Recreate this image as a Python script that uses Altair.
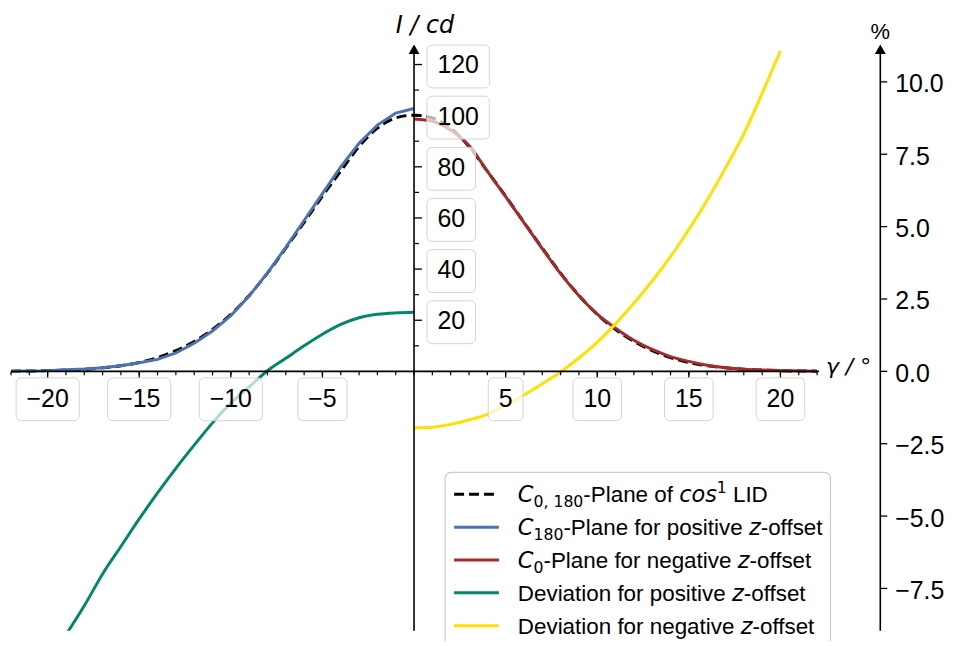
import altair as alt
import pandas as pd

# ---------------- data ----------------
gamma_c180 = list(range(-22, 1))
c180_positive = [0.1, 0.2, 0.3, 0.6, 0.9, 1.4, 2.2, 3.4, 4.7, 7.2, 11.0, 15.8,
                 21.8, 29.5, 38.5, 48.5, 59.0, 69.5, 80.0, 89.2, 96.3, 101.0, 102.8]

gamma_c0 = list(range(0, 23))
c0_negative = [98.7, 97.8, 94.4, 88.3, 78.3, 68.3, 58.2, 48.0, 38.2, 29.6, 22.4,
               16.9, 12.2, 8.6, 5.8, 3.9, 2.4, 1.4, 0.8, 0.5, 0.3, 0.2, 0.1]

gamma_lid = list(range(-22, 23))
lid_cos1 = [0.1, 0.15, 0.3, 0.5, 0.8, 1.4, 2.2, 3.5, 5.4, 8.1, 11.7, 16.4, 22.3,
            29.7, 38.4, 48.2, 58.3, 68.5, 78.3, 87.9, 95.1, 99.1, 100.2, 99.1,
            95.1, 87.9, 78.3, 68.5, 58.3, 48.2, 38.4, 29.7, 22.3, 16.4, 11.7,
            8.1, 5.4, 3.5, 2.2, 1.4, 0.8, 0.5, 0.3, 0.15, 0.1]

gamma_dev_pos = list(range(-19, 1))
dev_positive = [-9.1, -8.1, -7.0, -6.05, -5.1, -4.2, -3.35, -2.55, -1.78, -1.1,
                -0.54, 0.02, 0.45, 0.88, 1.28, 1.62, 1.85, 1.97, 2.02, 2.04]

gamma_dev_neg = list(range(0, 21))
dev_negative = [-1.95, -1.93, -1.83, -1.68, -1.49, -1.18, -0.82, -0.43, -0.02,
                0.46, 1.0, 1.64, 2.35, 3.12, 3.96, 4.9, 5.91, 7.02, 8.2, 9.6, 11.07]

x_major = [-20, -15, -10, -5, 5, 10, 15, 20]
x_major_labels = ["\u221220", "\u221215", "\u221210", "\u22125", "5", "10", "15", "20"]
x_minor = list(range(-22, 23))
y_major = [20, 40, 60, 80, 100, 120]
y_major_labels = ["20", "40", "60", "80", "100", "120"]
y_minor = [10, 30, 50, 70, 90, 110]
p_ticks = [-7.5, -5.0, -2.5, 0.0, 2.5, 5.0, 7.5, 10.0]
p_labels = ["\u22127.5", "\u22125.0", "\u22122.5", "0.0", "2.5", "5.0", "7.5", "10.0"]

series_colors = ["#000000", "#4C72B0", "#A52A2A", "#008869", "#FFE100"]
legend_rows = [
    [("C", "it"), ("0, 180", "sub"), ("-Plane of ", "rm"), ("cos", "it"), ("1", "sup"), (" LID", "rm")],
    [("C", "it"), ("180", "sub"), ("-Plane for positive ", "rm"), ("z", "it"), ("-offset", "rm")],
    [("C", "it"), ("0", "sub"), ("-Plane for negative ", "rm"), ("z", "it"), ("-offset", "rm")],
    [("Deviation for positive ", "rm"), ("z", "it"), ("-offset", "rm")],
    [("Deviation for negative ", "rm"), ("z", "it"), ("-offset", "rm")],
]

# ---------------- layout ----------------
W, H = 873, 584
X_LO, X_HI = -22.0, 25.45
X_AXIS_END = 22.1
I_LO, I_HI = -101.4, 126.0
P_LO, P_HI = -8.96, 11.13

SANS = "Liberation Sans"
MATH = "DejaVu Sans"
TICK_FS = 25
LEG_FS = 22.5

ARIAL = {" ": 278, "-": 333, "\u2212": 584, ".": 278, "P": 667, "l": 222, "a": 556,
         "n": 556, "e": 556, "o": 556, "f": 278, "r": 333, "p": 556, "s": 500,
         "i": 222, "t": 278, "v": 500, "g": 556, "L": 556, "I": 278, "D": 722,
         "c": 500, "d": 556}
for _d in "0123456789":
    ARIAL[_d] = 556
DEJAVU = {"C": 698, "z": 525, "c": 550, "o": 602, "s": 521, ",": 318, " ": 318}
for _d in "0123456789":
    DEJAVU[_d] = 636


def tw(s, table, size):
    return sum(table[c] for c in s) / 1000.0 * size


XS = alt.Scale(domain=[X_LO, X_HI], nice=False, zero=False)
YL = alt.Scale(domain=[I_LO, I_HI], nice=False, zero=False)
YR = alt.Scale(domain=[P_LO, P_HI], nice=False, zero=False)


def xq(f):
    return alt.X(f, type="quantitative", scale=XS, axis=None)


def yq(f, sc):
    return alt.Y(f, type="quantitative", scale=sc, axis=None)


layers = []

# ---------------- data lines ----------------
def line(gs, vs, sc, color, dash=None, interp="linear"):
    df = pd.DataFrame({"g": gs, "v": vs})
    kw = dict(color=color, strokeWidth=3, clip=True, interpolate=interp)
    if dash:
        kw["strokeDash"] = dash
    return alt.Chart(df).mark_line(**kw).encode(x=xq("g"), y=yq("v", sc))


layers.append(line(gamma_lid, lid_cos1, YL, series_colors[0], [10, 5], "monotone"))
layers.append(line(gamma_c180, c180_positive, YL, series_colors[1]))
layers.append(line(gamma_c0, c0_negative, YL, series_colors[2], interp="monotone"))
layers.append(line(gamma_dev_pos, dev_positive, YR, series_colors[3], interp="monotone"))
layers.append(line(gamma_dev_neg, dev_negative, YR, series_colors[4], interp="monotone"))

# ---------------- axes ----------------
AX = dict(color="black", strokeWidth=1.6)
layers.append(alt.Chart(pd.DataFrame({"a": [X_LO], "b": [X_AXIS_END], "y": [0]}))
              .mark_rule(**AX).encode(x=xq("a"), x2="b:Q", y=yq("y", YL)))
layers.append(alt.Chart(pd.DataFrame({"x": [0], "a": [I_LO], "b": [I_HI]}))
              .mark_rule(**AX).encode(x=xq("x"), y=yq("a", YL), y2="b:Q"))
layers.append(alt.Chart(pd.DataFrame({"x": [X_HI], "a": [P_LO], "b": [P_HI]}))
              .mark_rule(**AX).encode(x=xq("x"), y=yq("a", YR), y2="b:Q"))

# x ticks (below the axis)
layers.append(alt.Chart(pd.DataFrame({"g": x_minor, "y": 0}))
              .mark_rule(color="black", strokeWidth=1.2, y2Offset=4)
              .encode(x=xq("g"), y=yq("y", YL), y2="y:Q"))
layers.append(alt.Chart(pd.DataFrame({"g": x_major, "y": 0}))
              .mark_rule(color="black", strokeWidth=1.3, y2Offset=7)
              .encode(x=xq("g"), y=yq("y", YL), y2="y:Q"))
# left y ticks (pointing right)
layers.append(alt.Chart(pd.DataFrame({"v": y_minor, "x": 0}))
              .mark_rule(color="black", strokeWidth=1.2, x2Offset=5)
              .encode(x=xq("x"), x2="x:Q", y=yq("v", YL)))
layers.append(alt.Chart(pd.DataFrame({"v": y_major, "x": 0}))
              .mark_rule(color="black", strokeWidth=1.3, x2Offset=8)
              .encode(x=xq("x"), x2="x:Q", y=yq("v", YL)))
# right y ticks
layers.append(alt.Chart(pd.DataFrame({"v": p_ticks, "x": X_HI}))
              .mark_rule(color="black", strokeWidth=1.3, x2Offset=7)
              .encode(x=xq("x"), x2="x:Q", y=yq("v", YR)))
# arrows
layers.append(alt.Chart(pd.DataFrame({"x": [0], "y": [I_HI]}))
              .mark_point(shape="triangle-up", filled=True, size=120, color="black", opacity=1)
              .encode(x=xq("x"), y=yq("y", YL)))
layers.append(alt.Chart(pd.DataFrame({"x": [X_HI], "y": [P_HI]}))
              .mark_point(shape="triangle-up", filled=True, size=120, color="black", opacity=1)
              .encode(x=xq("x"), y=yq("y", YR)))

# ---------------- boxed tick labels ----------------
BOX = dict(fill="white", fillOpacity=0.7, stroke="#d4d4d4", strokeWidth=1, cornerRadius=5)
PADX = 10.5


def groups(labels):
    out = {}
    for i, lab in enumerate(labels):
        w = round(tw(lab, ARIAL, TICK_FS) + 2 * PADX, 1)
        out.setdefault(w, []).append(i)
    return out


# x labels
for w, idx in groups(x_major_labels).items():
    df = pd.DataFrame({"g": [x_major[i] for i in idx], "lab": [x_major_labels[i] for i in idx], "y": 0})
    layers.append(alt.Chart(df).mark_rect(xOffset=-w / 2, x2Offset=w / 2, yOffset=6.5, y2Offset=49.5, **BOX)
                  .encode(x=xq("g"), x2="g:Q", y=yq("y", YL), y2="y:Q"))
    layers.append(alt.Chart(df).mark_text(font=SANS, fontSize=TICK_FS, align="center", baseline="middle",
                                          dy=28, color="black")
                  .encode(x=xq("g"), y=yq("y", YL), text="lab:N"))

# left y labels
for w, idx in groups(y_major_labels).items():
    df = pd.DataFrame({"v": [y_major[i] for i in idx], "lab": [y_major_labels[i] for i in idx], "x": 0})
    layers.append(alt.Chart(df).mark_rect(xOffset=13, x2Offset=13 + w, yOffset=-19.5, y2Offset=23.5, **BOX)
                  .encode(x=xq("x"), x2="x:Q", y=yq("v", YL), y2="v:Q"))
    layers.append(alt.Chart(df).mark_text(font=SANS, fontSize=TICK_FS, align="center", baseline="middle",
                                          dx=13 + w / 2, dy=1, color="black")
                  .encode(x=xq("x"), y=yq("v", YL), text="lab:N"))

# right y labels
layers.append(alt.Chart(pd.DataFrame({"v": p_ticks, "lab": p_labels, "x": X_HI}))
              .mark_text(font=SANS, fontSize=TICK_FS, align="left", baseline="middle", dx=15, dy=2.5, color="black")
              .encode(x=xq("x"), y=yq("v", YR), text="lab:N"))

# ---------------- axis titles ----------------
layers.append(alt.Chart(pd.DataFrame({"x": [0], "y": [I_HI], "t": ["I / cd"]}))
              .mark_text(font=MATH, fontStyle="italic", fontSize=24, align="center", baseline="alphabetic",
                         dx=11, dy=-16.5, color="black")
              .encode(x=xq("x"), y=yq("y", YL), text="t:N"))
layers.append(alt.Chart(pd.DataFrame({"x": [X_HI], "y": [P_HI], "t": ["%"]}))
              .mark_text(font=SANS, fontSize=22, align="center", baseline="alphabetic", dy=-10, color="black")
              .encode(x=xq("x"), y=yq("y", YR), text="t:N"))
layers.append(alt.Chart(pd.DataFrame({"x": [X_AXIS_END], "y": [0], "t": ["\u03b3 / \u00b0"]}))
              .mark_text(font=MATH, fontStyle="italic", fontSize=22, align="left", baseline="alphabetic",
                         dx=7, dy=2.5, color="black")
              .encode(x=xq("x"), y=yq("y", YL), text="t:N"))

# ---------------- legend (manual, rich text) ----------------
LEG_X0, LEG_X1, LEG_Y0, LEG_Y1 = 436, 823, 425, 640
HANDLE_X0, HANDLE_X1 = 445, 490
TEXT_X = 509
ROW_Y0, ROW_DY = 447, 33

layers.append(alt.Chart(pd.DataFrame({"k": [0]}))
              .mark_rect(fill="white", fillOpacity=0.85, stroke="#cccccc", strokeWidth=1.2, cornerRadius=6)
              .encode(x=alt.value(LEG_X0), x2=alt.value(LEG_X1), y=alt.value(LEG_Y0), y2=alt.value(LEG_Y1)))

for r, segs in enumerate(legend_rows):
    ly = ROW_Y0 + r * ROW_DY
    kw = dict(color=series_colors[r], strokeWidth=3)
    if r == 0:
        kw["strokeDash"] = [10, 5]
    layers.append(alt.Chart(pd.DataFrame({"k": [0]})).mark_rule(**kw)
                  .encode(x=alt.value(HANDLE_X0), x2=alt.value(HANDLE_X1), y=alt.value(ly)))
    base = ly + 8
    cur = TEXT_X
    for s, kind in segs:
        if kind == "rm":
            table, fs, font, style, yy = ARIAL, LEG_FS, SANS, "normal", base
        elif kind == "it":
            table, fs, font, style, yy = DEJAVU, LEG_FS, MATH, "italic", base
        elif kind == "sub":
            table, fs, font, style, yy = DEJAVU, LEG_FS * 0.7, MATH, "normal", base + 5
        else:
            table, fs, font, style, yy = DEJAVU, LEG_FS * 0.7, MATH, "normal", base - 9
        lead = len(s) - len(s.lstrip(" "))
        xx = cur + lead * table[" "] / 1000.0 * fs
        layers.append(alt.Chart(pd.DataFrame({"t": [s.strip()]}))
                      .mark_text(font=font, fontStyle=style, fontSize=fs, align="left",
                                 baseline="alphabetic", color="black")
                      .encode(x=alt.value(xx), y=alt.value(yy), text="t:N"))
        cur += tw(s, table, fs)

chart = (alt.layer(*layers)
         .resolve_scale(y="independent")
         .properties(width=W, height=H, autosize=alt.AutoSizeParams(type="none"),
                     padding={"left": 3, "top": 40, "right": 69, "bottom": 9},
                     background="white")
         .configure_view(stroke=None))

chart.save("out.html", embed_options={"renderer": "svg", "actions": False})
